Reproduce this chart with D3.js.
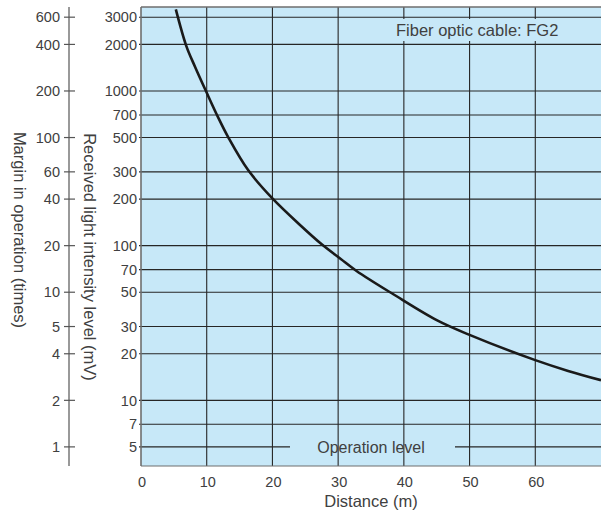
<!DOCTYPE html>
<html>
<head>
<meta charset="utf-8">
<script src="https://cdn.jsdelivr.net/npm/d3@7"></script>
<style>
  html, body { margin: 0; padding: 0; background: #fff; }
  svg { display: block; font-family: "Liberation Sans", Arial, sans-serif; }
</style>
</head>
<body>
<svg id="chart" width="601" height="515"></svg>
<script>
// ---- data ----
const distance = [5.3, 6.9, 8.2, 9.9, 11.7, 13.3, 16.3, 20, 24.2, 27.5, 30.4, 32.8, 38.4, 45, 49.9, 60, 65, 70];
const intensity = [3370, 1950, 1440, 995, 680, 500, 308, 202, 136, 102, 82, 68.6, 48.5, 33, 26.6, 18.2, 15.5, 13.5];
const xTicks = [0, 10, 20, 30, 40, 50, 60];
const mvTicks = [3000, 2000, 1000, 700, 500, 300, 200, 100, 70, 50, 30, 20, 10, 7, 5];
const marginTicks = [600, 400, 200, 100, 60, 40, 20, 10, 5, 4, 2, 1];
const marginAtMv = [3000, 2000, 1000, 500, 300, 200, 100, 50, 30, 20, 10, 5];
const operationLevel = 5;
const cableLabel = "Fiber optic cable: FG2";

// ---- layout ----
const svg = d3.select("#chart");
const plot = { left: 141, right: 601, top: 7, bottom: 466 };
const x = d3.scaleLinear().domain([0, 70]).range([plot.left, plot.right]);
const y = d3.scaleLog().domain([3.762, 3491]).range([plot.bottom, plot.top]);
const textColor = "#404040";
const gridColor = "#262626";
const bg = "#c7e8f8";

// background
svg.append("rect")
  .attr("x", plot.left).attr("y", plot.top)
  .attr("width", plot.right - plot.left).attr("height", plot.bottom - plot.top)
  .attr("fill", bg);

// vertical grid
svg.append("g").selectAll("line").data(xTicks.filter(d => d > 0)).join("line")
  .attr("x1", d => x(d)).attr("x2", d => x(d))
  .attr("y1", plot.top).attr("y2", plot.bottom)
  .attr("stroke", gridColor).attr("stroke-width", 1.1);

// horizontal grid (operation level line handled separately)
svg.append("g").selectAll("line").data(mvTicks.filter(d => d !== operationLevel)).join("line")
  .attr("x1", plot.left - 2).attr("x2", plot.right)
  .attr("y1", d => y(d)).attr("y2", d => y(d))
  .attr("stroke", gridColor).attr("stroke-width", 1.1);

// operation level line with gap for label
const opY = y(operationLevel);
svg.append("line").attr("x1", plot.left - 2).attr("x2", 290)
  .attr("y1", opY).attr("y2", opY).attr("stroke", gridColor).attr("stroke-width", 1.1);
svg.append("line").attr("x1", 455).attr("x2", plot.right)
  .attr("y1", opY).attr("y2", opY).attr("stroke", gridColor).attr("stroke-width", 1.1);
svg.append("text").attr("x", 371).attr("y", opY + 6.5)
  .attr("text-anchor", "middle").attr("font-size", 16).attr("fill", textColor)
  .text("Operation level");

// cable label with background patch
svg.append("rect").attr("x", 393).attr("y", 19).attr("width", 178).attr("height", 22)
  .attr("fill", bg);
svg.append("text").attr("x", 396).attr("y", 36)
  .attr("font-size", 16.5).attr("fill", textColor).text(cableLabel);

// frame (left, top, bottom)
svg.append("line").attr("x1", plot.left).attr("x2", plot.left)
  .attr("y1", plot.top).attr("y2", plot.bottom)
  .attr("stroke", "#6e6e6e").attr("stroke-width", 1.6);
svg.append("line").attr("x1", plot.left).attr("x2", plot.right)
  .attr("y1", plot.top).attr("y2", plot.top)
  .attr("stroke", "#6e6e6e").attr("stroke-width", 1.6);
svg.append("line").attr("x1", plot.left).attr("x2", plot.right)
  .attr("y1", plot.bottom).attr("y2", plot.bottom)
  .attr("stroke", "#6e6e6e").attr("stroke-width", 1.2);

// curve
const pts = distance.map((d, i) => [d, intensity[i]]);
svg.append("path").datum(pts)
  .attr("fill", "none").attr("stroke", "#1a1a1a").attr("stroke-width", 2.6)
  .attr("d", d3.line().x(d => x(d[0])).y(d => y(d[1])).curve(d3.curveCatmullRom.alpha(0.5)));

// mV tick labels
svg.append("g").selectAll("text").data(mvTicks).join("text")
  .attr("x", 137).attr("y", d => y(d) + 5.2)
  .attr("text-anchor", "end").attr("font-size", 14.5).attr("fill", textColor)
  .text(d => d);

// x tick labels
svg.append("g").selectAll("text").data(xTicks).join("text")
  .attr("x", d => x(d) + 1).attr("y", 487)
  .attr("text-anchor", "middle").attr("font-size", 14.5).attr("fill", textColor)
  .text(d => d);

// margin axis
const mAxisX = 69;
svg.append("line").attr("x1", mAxisX).attr("x2", mAxisX)
  .attr("y1", plot.top).attr("y2", plot.bottom)
  .attr("stroke", "#6e6e6e").attr("stroke-width", 1.4);
const mg = svg.append("g").selectAll("g").data(marginTicks).join("g")
  .attr("transform", (d, i) => `translate(0,${y(marginAtMv[i])})`);
mg.append("line").attr("x1", mAxisX - 5).attr("x2", mAxisX + 6)
  .attr("stroke", "#555").attr("stroke-width", 1.2);
mg.append("text").attr("x", 60).attr("y", 5.2)
  .attr("text-anchor", "end").attr("font-size", 14.5).attr("fill", textColor)
  .text(d => d);

// axis titles
svg.append("text").attr("x", 371).attr("y", 507)
  .attr("text-anchor", "middle").attr("font-size", 16.5).attr("fill", textColor)
  .text("Distance (m)");
svg.append("text").attr("transform", "translate(14,230) rotate(90)")
  .attr("text-anchor", "middle").attr("font-size", 16.5).attr("fill", textColor)
  .text("Margin in operation (times)");
svg.append("text").attr("transform", "translate(84,257) rotate(90)")
  .attr("text-anchor", "middle").attr("font-size", 16.5).attr("fill", textColor)
  .text("Received light intensity level (mV)");
</script>
</body>
</html>
